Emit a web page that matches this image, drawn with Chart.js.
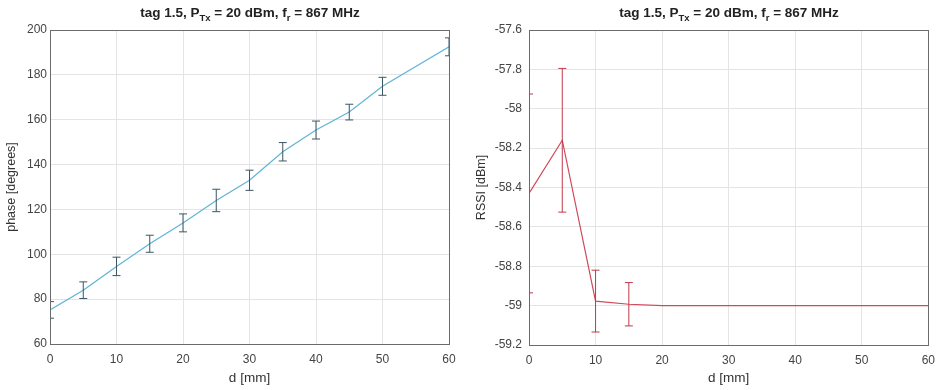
<html>
<head>
  <title>tag 1.5</title>
  <script src="https://cdn.jsdelivr.net/npm/chart.js"></script>
  <style>
    body { margin: 0; background: #fff; font-family: "Liberation Sans", Arial, sans-serif; }
    .box { position: absolute; top: 0; height: 390px; }
    .title { position: absolute; top: 5px; font-size: 13.5px; font-weight: bold; color: #222; white-space: nowrap; transform: translateX(-50%); }
    .title sub { font-size: 9.5px; }
  </style>
</head>
<body>
  <div class="box" style="left:0;width:470px"><canvas id="phaseChart"></canvas></div>
  <div class="box" style="left:470px;width:473px"><canvas id="rssiChart"></canvas></div>
  <div class="title" style="left:250px">tag 1.5, P<sub>Tx</sub> = 20 dBm, f<sub>r</sub> = 867 MHz</div>
  <div class="title" style="left:729px">tag 1.5, P<sub>Tx</sub> = 20 dBm, f<sub>r</sub> = 867 MHz</div>

  <script>
    // left: phase vs distance
    const phaseD = [0, 5, 10, 15, 20, 25, 30, 35, 40, 45, 50, 60];
    const phase = [75.2, 84, 94.6, 104.7, 114, 124, 133, 145.7, 155.4, 163.4, 174.9, 192.5];
    const phaseErr = [3.7, 3.7, 4.1, 3.8, 4, 5, 4.5, 4.1, 4, 3.5, 4, 4];

    // right: RSSI vs distance
    const rssiD = [0, 5, 10, 15, 20, 25, 30, 35, 40, 45, 50, 55, 60];
    const rssi = [-58.43, -58.16, -58.977, -58.993, -59, -59, -59, -59, -59, -59, -59, -59, -59];
    const rssiErr = [0.505, 0.365, 0.157, 0.11, 0, 0, 0, 0, 0, 0, 0, 0, 0];

    const frameColor = '#6b6b6b';
    const gridColor = '#e4e4e4';
    const tickFont = { family: '"Liberation Sans", Arial, sans-serif', size: 12 };

    // error bars + box around plot area
    const errorBars = {
      id: 'errorBars',
      afterDatasetsDraw(chart, args, opts) {
        const { ctx, chartArea, scales } = chart;
        const ds = chart.data.datasets[0];
        ctx.save();
        ctx.beginPath();
        ctx.rect(chartArea.left, chartArea.top, chartArea.width, chartArea.height);
        ctx.clip();
        ctx.strokeStyle = opts.color;
        ctx.lineWidth = 1;
        ds.data.forEach((p, i) => {
          const e = opts.err[i];
          if (!e) return;
          const x = scales.x.getPixelForValue(p.x);
          const y1 = scales.y.getPixelForValue(p.y + e);
          const y2 = scales.y.getPixelForValue(p.y - e);
          ctx.beginPath();
          ctx.moveTo(x, y1); ctx.lineTo(x, y2);
          ctx.moveTo(x - opts.cap, y1); ctx.lineTo(x + opts.cap, y1);
          ctx.moveTo(x - opts.cap, y2); ctx.lineTo(x + opts.cap, y2);
          ctx.stroke();
        });
        ctx.restore();
        ctx.save();
        ctx.strokeStyle = frameColor;
        ctx.lineWidth = 1;
        ctx.strokeRect(Math.round(chartArea.left) + 0.5, Math.round(chartArea.top) + 0.5,
          Math.round(chartArea.width), Math.round(chartArea.height));
        ctx.restore();
      }
    };

    function makeChart(id, xs, ys, err, opts) {
      return new Chart(document.getElementById(id), {
        type: 'line',
        data: {
          datasets: [{
            data: xs.map((x, i) => ({ x: x, y: ys[i] })),
            borderColor: opts.lineColor,
            borderWidth: 1.2,
            pointRadius: 0,
            tension: 0,
            fill: false
          }]
        },
        options: {
          responsive: true,
          maintainAspectRatio: false,
          animation: false,
          layout: { padding: { top: 30, right: opts.padRight, left: 0, bottom: 0 } },
          plugins: {
            legend: { display: false },
            tooltip: { enabled: false },
            errorBars: { err: err, color: opts.barColor, cap: 4 }
          },
          scales: {
            x: {
              type: 'linear',
              min: 0, max: 60,
              ticks: { stepSize: 10, color: '#444', font: tickFont, padding: 8, maxRotation: 0 },
              grid: { color: gridColor, drawTicks: false },
              border: { color: frameColor },
              title: { display: true, text: 'd [mm]', color: '#333', font: { family: tickFont.family, size: 13.5 }, padding: { top: 1 } },
              afterFit: s => { s.height = opts.bottomH; }
            },
            y: {
              min: opts.yMin, max: opts.yMax,
              ticks: {
                stepSize: opts.yStep, color: '#444', font: tickFont, padding: opts.yPad,
                callback: v => opts.fmt(v)
              },
              grid: { color: gridColor, drawTicks: false },
              border: { color: frameColor },
              title: { display: true, text: opts.yTitle, color: '#333', font: { family: tickFont.family, size: 12.5 }, padding: { bottom: 0 } },
              afterFit: s => { s.width = opts.leftW; }
            }
          }
        },
        plugins: [errorBars]
      });
    }

    makeChart('phaseChart', phaseD, phase, phaseErr, {
      lineColor: '#5fb4d6', barColor: '#3b5663', padRight: 21, bottomH: 46, leftW: 50,
      yMin: 60, yMax: 200, yStep: 20, yPad: 3, yTitle: 'phase [degrees]',
      fmt: v => String(v)
    });

    makeChart('rssiChart', rssiD, rssi, rssiErr, {
      lineColor: '#d0485a', barColor: '#c0394c', padRight: 14, bottomH: 45, leftW: 59,
      yMin: -59.2, yMax: -57.6, yStep: 0.2, yPad: 7, yTitle: 'RSSI [dBm]',
      fmt: v => (Math.round(v * 10) / 10).toFixed(1).replace(/\.0$/, '')
    });
  </script>
</body>
</html>
